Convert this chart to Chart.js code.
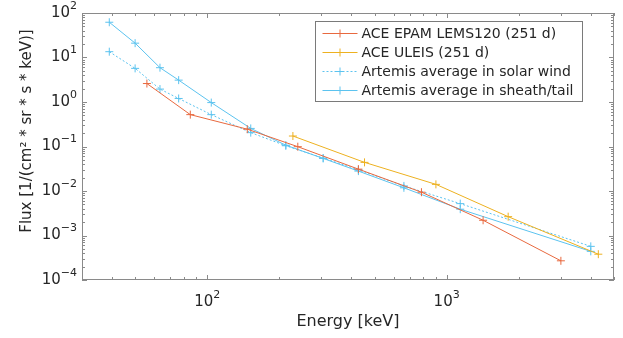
<!DOCTYPE html>
<html>
<head>
<meta charset="utf-8">
<script src="https://cdn.jsdelivr.net/npm/chart.js@4.4.1/dist/chart.umd.min.js"></script>
<style>
  html, body { margin: 0; padding: 0; background: #ffffff; }
  #wrap { width: 623px; height: 338px; }
</style>
</head>
<body>
<div id="wrap"><canvas id="fluxChart" width="623" height="338"></canvas></div>
<script>
// Energy [keV] and flux values
const artemisEnergy = [39, 50, 63.5, 76, 104, 152, 213, 305, 428, 663, 1140, 4000];
const sheathFlux = [62, 21, 5.9, 3.1, 0.97, 0.255, 0.107, 0.054, 0.028, 0.0118, 0.0039, 0.00044];
const solarWindFlux = [13.5, 5.7, 1.95, 1.2, 0.52, 0.205, 0.104, 0.055, 0.03, 0.013, 0.0052, 0.00057];

const epamEnergy = [56, 85, 147, 239, 428, 785, 1420, 3000];
const epamFlux = [2.6, 0.52, 0.245, 0.099, 0.031, 0.0094, 0.0022, 0.00027];

const uleisEnergy = [228, 454, 902, 1807, 4300];
const uleisFlux = [0.172, 0.044, 0.0141, 0.00265, 0.00038];

// axis decades for the labels
const xDecades = [2, 3];
const yDecades = [-4, -3, -2, -1, 0, 1, 2];

const seriesLabels = [
    'ACE EPAM LEMS120 (251 d)',
    'ACE ULEIS (251 d)',
    'Artemis average in solar wind',
    'Artemis average in sheath/tail'
];

const FONT = '"DejaVu Sans", sans-serif';
const AXIS_COLOR = '#8a8a8a';
const TEXT_COLOR = '#262626';

function toPoints(xs, ys) {
    return xs.map((x, i) => ({ x: x, y: ys[i] }));
}

function makeSet(label, xs, ys, color, dash) {
    return {
        label: label,
        data: toPoints(xs, ys),
        borderColor: color,
        backgroundColor: color,
        borderWidth: 1,
        borderDash: dash || [],
        pointStyle: 'cross',
        pointRadius: 4,
        pointBorderWidth: 1,
        pointBorderColor: color,
        fill: false,
        tension: 0
    };
}

// draws "10" with a raised exponent, anchored by align ('right' or 'center')
function drawPower(ctx, exp, x, y, align) {
    const base = '10';
    const sup = String(exp).replace('-', '\u2212');
    ctx.font = '15px ' + FONT;
    const wb = ctx.measureText(base).width;
    ctx.font = '11px ' + FONT;
    const ws = ctx.measureText(sup).width;
    const total = wb + ws;
    let left = align === 'right' ? x - total : x - total / 2;
    ctx.fillStyle = TEXT_COLOR;
    ctx.textBaseline = 'middle';
    ctx.textAlign = 'left';
    ctx.font = '15px ' + FONT;
    ctx.fillText(base, left, y);
    ctx.font = '11px ' + FONT;
    ctx.fillText(sup, left + wb, y - 7);
}

// MATLAB-like box with inward ticks, tick labels, axis titles and legend
const matlabAxes = {
    id: 'matlabAxes',
    afterDraw(chart) {
        const ctx = chart.ctx;
        const a = chart.chartArea;
        const xs = chart.scales.x;
        const ys = chart.scales.y;
        ctx.save();

        // box
        ctx.strokeStyle = AXIS_COLOR;
        ctx.lineWidth = 1;
        ctx.strokeRect(a.left + 0.5, a.top + 0.5, a.right - a.left - 1, a.bottom - a.top - 1);

        // x ticks (top and bottom)
        ctx.beginPath();
        for (let d = 1; d <= 3; d++) {
            for (let m = 1; m <= 9; m++) {
                const v = m * Math.pow(10, d);
                if (v < xs.min || v > xs.max) continue;
                const px = Math.round(xs.getPixelForValue(v)) + 0.5;
                const len = m === 1 ? 5 : 3;
                ctx.moveTo(px, a.bottom); ctx.lineTo(px, a.bottom - len);
                ctx.moveTo(px, a.top); ctx.lineTo(px, a.top + len);
            }
        }
        // y ticks (left and right)
        for (let d = -4; d <= 2; d++) {
            for (let m = 1; m <= 9; m++) {
                const v = m * Math.pow(10, d);
                if (v < ys.min || v > ys.max * 1.0001) continue;
                const py = Math.round(ys.getPixelForValue(v)) + 0.5;
                const len = m === 1 ? 5 : 3;
                ctx.moveTo(a.left, py); ctx.lineTo(a.left + len, py);
                ctx.moveTo(a.right, py); ctx.lineTo(a.right - len, py);
            }
        }
        ctx.stroke();

        // tick labels
        xDecades.forEach(d => {
            drawPower(ctx, d, xs.getPixelForValue(Math.pow(10, d)), a.bottom + 22, 'center');
        });
        yDecades.forEach(d => {
            drawPower(ctx, d, a.left - 5, ys.getPixelForValue(Math.pow(10, d)), 'right');
        });

        // axis titles
        ctx.fillStyle = TEXT_COLOR;
        ctx.font = '16px ' + FONT;
        ctx.textAlign = 'center';
        ctx.textBaseline = 'middle';
        ctx.fillText('Energy [keV]', 348, 322);

        ctx.save();
        ctx.font = '15px ' + FONT;
        ctx.translate(27, 131);
        ctx.rotate(-Math.PI / 2);
        ctx.fillText('Flux [1/(cm\u00b2 * sr * s * keV)]', 0, 0);
        ctx.restore();

        // legend
        const bx = 315.5, by = 21.5, bw = 267, bh = 80;
        ctx.fillStyle = '#ffffff';
        ctx.fillRect(bx, by, bw, bh);
        ctx.strokeStyle = '#7a7a7a';
        ctx.strokeRect(bx, by, bw, bh);
        ctx.font = '14px ' + FONT;
        ctx.textAlign = 'left';
        chart.data.datasets.forEach((ds, i) => {
            const y = by + 12 + i * 19;
            ctx.strokeStyle = ds.borderColor;
            ctx.lineWidth = 1;
            ctx.setLineDash(ds.borderDash);
            ctx.beginPath();
            ctx.moveTo(bx + 7, y); ctx.lineTo(bx + 42, y);
            ctx.stroke();
            ctx.setLineDash([]);
            ctx.beginPath();
            ctx.moveTo(bx + 24.5, y - 4); ctx.lineTo(bx + 24.5, y + 4);
            ctx.moveTo(bx + 20.5, y); ctx.lineTo(bx + 28.5, y);
            ctx.stroke();
            ctx.fillStyle = TEXT_COLOR;
            ctx.fillText(ds.label, bx + 46, y + 1);
        });

        ctx.restore();
    }
};

const datasets = [
    makeSet(seriesLabels[0], epamEnergy, epamFlux, '#e8693f'),
    makeSet(seriesLabels[1], uleisEnergy, uleisFlux, '#edb120'),
    makeSet(seriesLabels[2], artemisEnergy, solarWindFlux, '#5cc3ef', [2, 2]),
    makeSet(seriesLabels[3], artemisEnergy, sheathFlux, '#5cc3ef')
];

new Chart(document.getElementById('fluxChart').getContext('2d'), {
    type: 'line',
    data: { datasets: datasets },
    options: {
        responsive: false,
        animation: false,
        layout: { padding: { left: 82, right: 9, top: 13, bottom: 58 } },
        plugins: {
            legend: { display: false },
            tooltip: { enabled: false }
        },
        scales: {
            x: {
                type: 'logarithmic',
                min: 30,
                max: 5000,
                ticks: { display: false },
                grid: { display: false },
                border: { display: false },
                afterFit: s => { s.height = 0; }
            },
            y: {
                type: 'logarithmic',
                min: 1e-4,
                max: 1e2,
                ticks: { display: false },
                grid: { display: false },
                border: { display: false },
                afterFit: s => { s.width = 0; }
            }
        }
    },
    plugins: [matlabAxes]
});
</script>
</body>
</html>
